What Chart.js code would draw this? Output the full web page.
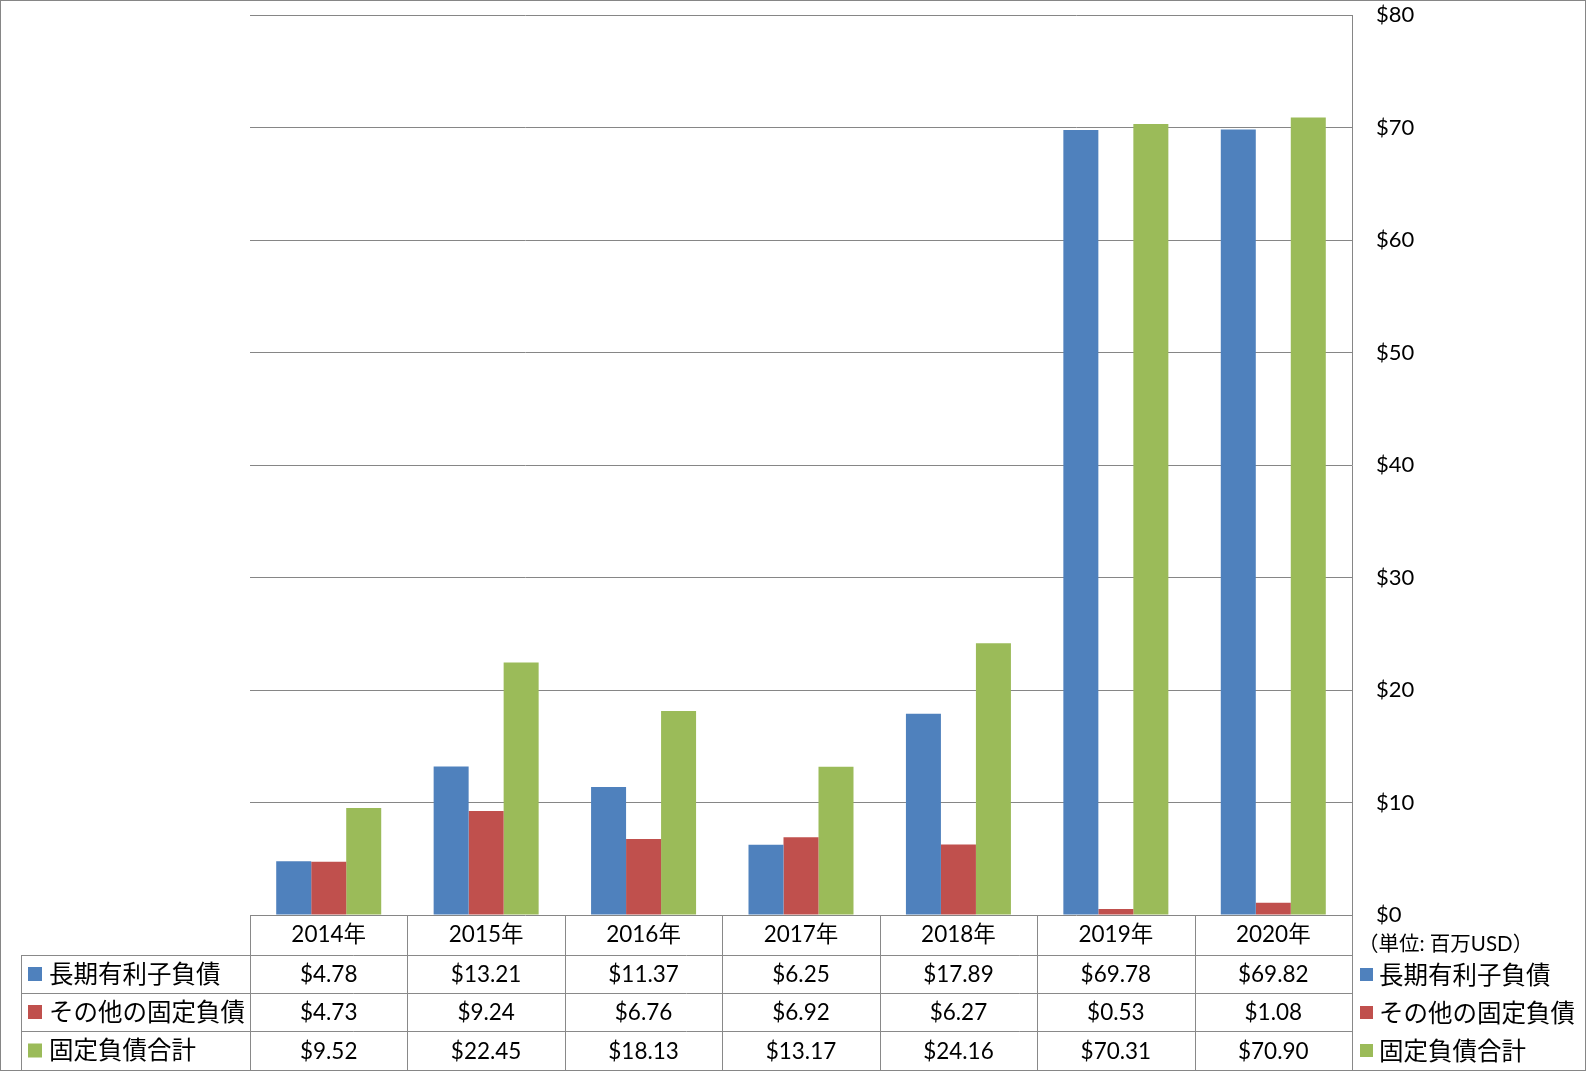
<!DOCTYPE html>
<html>
<head>
<meta charset="utf-8">
<script src="https://cdn.jsdelivr.net/npm/chart.js@4"></script>
<style>
  body { margin: 0; background: #fff; }
  canvas { display: block; }
</style>
</head>
<body>
<canvas id="chart" width="1586" height="1071"></canvas>
<script>
// データ
const years = ['2014年', '2015年', '2016年', '2017年', '2018年', '2019年', '2020年'];
const longTermDebt = [4.78, 13.21, 11.37, 6.25, 17.89, 69.78, 69.82];
const otherFixed = [4.73, 9.24, 6.76, 6.92, 6.27, 0.53, 1.08];
const totalFixed = [9.52, 22.45, 18.13, 13.17, 24.16, 70.31, 70.90];
const seriesNames = ['長期有利子負債', 'その他の固定負債', '固定負債合計'];
const colors = ['#4F81BD', '#C0504D', '#9BBB59'];
const unitLabel = '（単位: 百万USD）';

const FONT = "Lato, 'Noto Sans CJK JP', sans-serif";
const LINE = '#898989';

// 下のデータテーブルと右側の凡例
const tablePlugin = {
    id: 'dataTable',
    afterDraw(chart) {
        const ctx = chart.ctx;
        const x = chart.scales.x;
        const area = chart.chartArea;
        const series = [longTermDebt, otherFixed, totalFixed];
        const half = (x.getPixelForTick(1) - x.getPixelForTick(0)) / 2;
        const legendLeft = 21;
        const rowTops = [area.bottom, area.bottom + 40, area.bottom + 78, area.bottom + 116, area.bottom + 155];

        ctx.save();
        ctx.strokeStyle = LINE;
        ctx.lineWidth = 1;
        ctx.beginPath();
        // 横線
        for (let r = 1; r < rowTops.length; r++) {
            const y = Math.round(rowTops[r]) + 0.5;
            ctx.moveTo(legendLeft, y);
            ctx.lineTo(area.right, y);
        }
        // 縦線
        for (let i = 0; i <= years.length; i++) {
            const px = Math.round(x.getPixelForTick(Math.min(i, years.length - 1)) + (i === years.length ? half : -half)) + 0.5;
            ctx.moveTo(px, rowTops[0]);
            ctx.lineTo(px, rowTops[4]);
        }
        ctx.moveTo(legendLeft + 0.5, rowTops[1]);
        ctx.lineTo(legendLeft + 0.5, rowTops[4]);
        ctx.stroke();

        ctx.fillStyle = '#000';
        ctx.textAlign = 'center';
        ctx.textBaseline = 'middle';
        ctx.font = '22.5px ' + FONT;
        years.forEach((yr, i) => {
            const cx = x.getPixelForTick(i);
            ctx.fillText(yr, cx, (rowTops[0] + rowTops[1]) / 2);
            series.forEach((s, r) => {
                ctx.fillText('$' + s[i].toFixed(2), cx, (rowTops[r + 1] + rowTops[r + 2]) / 2 + 1);
            });
        });

        // 表の凡例
        ctx.textAlign = 'left';
        ctx.font = '24.5px ' + FONT;
        seriesNames.forEach((name, r) => {
            const cy = (rowTops[r + 1] + rowTops[r + 2]) / 2;
            ctx.fillStyle = colors[r];
            ctx.fillRect(28, cy - 7, 14, 14);
            ctx.fillStyle = '#000';
            ctx.fillText(name, 49, cy + 1);
        });

        // 右側の凡例
        ctx.font = '20.5px ' + FONT;
        ctx.fillText(unitLabel, 1358, 944);
        ctx.font = '24.5px ' + FONT;
        seriesNames.forEach((name, r) => {
            const cy = 975 + r * 38;
            ctx.fillStyle = colors[r];
            ctx.fillRect(1360, cy - 7, 13, 13);
            ctx.fillStyle = '#000';
            ctx.fillText(name, 1379, cy + 1);
        });

        // 外枠
        ctx.strokeStyle = '#868686';
        ctx.strokeRect(0.5, 0.5, chart.width - 1, chart.height - 1);
        ctx.restore();
    }
};

new Chart(document.getElementById('chart'), {
    type: 'bar',
    data: {
        labels: years,
        datasets: [
            { label: seriesNames[0], data: longTermDebt, backgroundColor: colors[0] },
            { label: seriesNames[1], data: otherFixed, backgroundColor: colors[1] },
            { label: seriesNames[2], data: totalFixed, backgroundColor: colors[2] }
        ]
    },
    options: {
        responsive: false,
        animation: false,
        categoryPercentage: 0.667,
        barPercentage: 1.0,
        layout: {
            padding: { left: 250, top: 15, bottom: 156, right: 0 }
        },
        plugins: {
            legend: { display: false },
            tooltip: { enabled: false }
        },
        scales: {
            x: {
                display: false
            },
            y: {
                position: 'right',
                min: 0,
                max: 80,
                ticks: {
                    stepSize: 10,
                    padding: 24,
                    color: '#000',
                    font: { family: FONT, size: 22 },
                    callback: v => '$' + v
                },
                grid: {
                    color: '#868686',
                    drawTicks: false
                },
                border: { color: '#868686' },
                afterFit(scale) {
                    scale.width = 234;
                    scale.paddingTop = 0;
                    scale.paddingBottom = 0;
                }
            }
        }
    },
    plugins: [tablePlugin]
});
</script>
</body>
</html>
